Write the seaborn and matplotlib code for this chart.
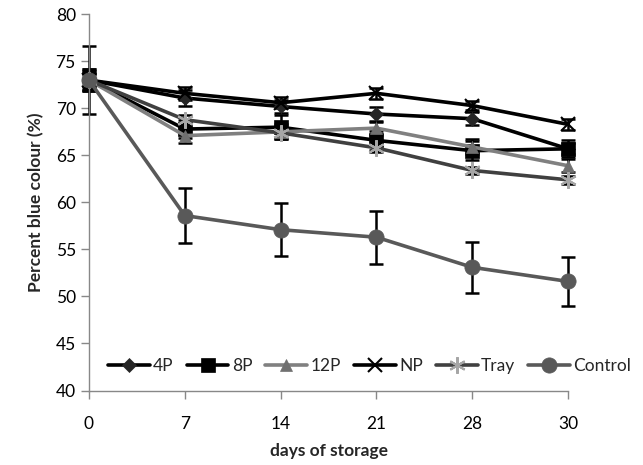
import numpy as np
import pandas as pd
import matplotlib
matplotlib.use("Agg")
import matplotlib.pyplot as plt
import seaborn as sns

days = ["0", "7", "14", "21", "28", "30"]
series = ["4P", "8P", "12P", "NP", "Tray", "Control"]

p4 = [73.0, 71.1, 70.2, 69.4, 68.9, 65.7]
p8 = [73.0, 67.8, 68.0, 66.6, 65.5, 65.7]
p12 = [73.0, 67.1, 67.5, 67.9, 65.9, 63.9]
np_ = [73.0, 71.6, 70.6, 71.6, 70.3, 68.3]
tray = [73.0, 68.8, 67.4, 65.8, 63.4, 62.4]
control = [73.0, 58.6, 57.1, 56.3, 53.1, 51.6]

p4_err = [1.2, 0.8, 0.7, 0.7, 0.7, 0.6]
p8_err = [1.2, 1.0, 1.3, 1.0, 1.0, 0.9]
p12_err = [1.0, 0.8, 0.8, 0.7, 0.8, 0.7]
np_err = [1.0, 0.7, 0.6, 0.6, 0.5, 0.6]
tray_err = [0.8, 0.5, 0.5, 0.4, 0.4, 0.4]
control_err = [3.6, 2.9, 2.8, 2.8, 2.7, 2.6]

values = [p4, p8, p12, np_, tray, control]
errors = [p4_err, p8_err, p12_err, np_err, tray_err, control_err]

line_colors = ["#000000", "#000000", "#808080", "#000000", "#404040", "#595959"]
marker_colors = ["#262626", "#000000", "#707070", "#000000", "#a6a6a6", "#595959"]
marker_shapes = ["D", "s", "^", "x", (6, 2, 0), "o"]
marker_sizes = [7, 10, 9, 10, 12, 11]

pos = np.arange(len(days))
df = pd.DataFrame({
    "day": np.tile(pos, len(series)),
    "value": np.concatenate(values),
    "err": np.concatenate(errors),
    "group": np.repeat(series, len(days)),
})

sns.set_style("ticks")
plt.rcParams["font.family"] = ["Lato", "DejaVu Sans"]

fig = plt.figure(figsize=(6.43, 4.65), dpi=100)
ax = fig.add_axes([0.1384, 0.1602, 0.745, 0.809])

# error bars first so lines sit on top
for name in series:
    sub = df[df["group"] == name]
    eb = ax.errorbar(sub["day"], sub["value"], yerr=sub["err"], fmt="none",
                     ecolor="black", elinewidth=1.8, capsize=5, capthick=1.8, zorder=2)
    for art in eb.lines[1] + eb.lines[2]:
        art.set_clip_on(False)

for i, name in enumerate(series):
    sub = df[df["group"] == name]
    sns.lineplot(data=sub, x="day", y="value", ax=ax, color=line_colors[i],
                 linewidth=2.6, marker=marker_shapes[i], markersize=marker_sizes[i],
                 markerfacecolor=marker_colors[i], markeredgecolor=marker_colors[i],
                 markeredgewidth=1.5 if i in (3, 4) else 0.5, label=name, zorder=3,
                 clip_on=False)

ax.set_xlim(0, 5)
ax.set_ylim(40, 80)
ax.set_xticks(pos)
ax.set_xticklabels(days)
ax.set_yticks(range(40, 81, 5))
ax.tick_params(axis="both", labelsize=12.5, colors="#000000", length=6, width=1, color="#888888")
ax.tick_params(axis="x", pad=12)
for s in ["top", "right"]:
    ax.spines[s].set_visible(False)
for s in ["left", "bottom"]:
    ax.spines[s].set_color("#888888")
    ax.spines[s].set_linewidth(1)

ax.set_xlabel("days of storage", fontsize=12.5, fontweight="bold", labelpad=8)
ax.set_ylabel("Percent blue colour (%)", fontsize=12.5, fontweight="bold", labelpad=8)

handles, labels = ax.get_legend_handles_labels()
ax.legend(handles, labels, loc="center", bbox_to_anchor=(0.575, 0.212),
          bbox_transform=fig.transFigure, ncol=6, frameon=False, fontsize=12.5,
          handlelength=2.4, handletextpad=0.2, columnspacing=0.75, borderpad=0)

fig.savefig("out.png", dpi=100)
